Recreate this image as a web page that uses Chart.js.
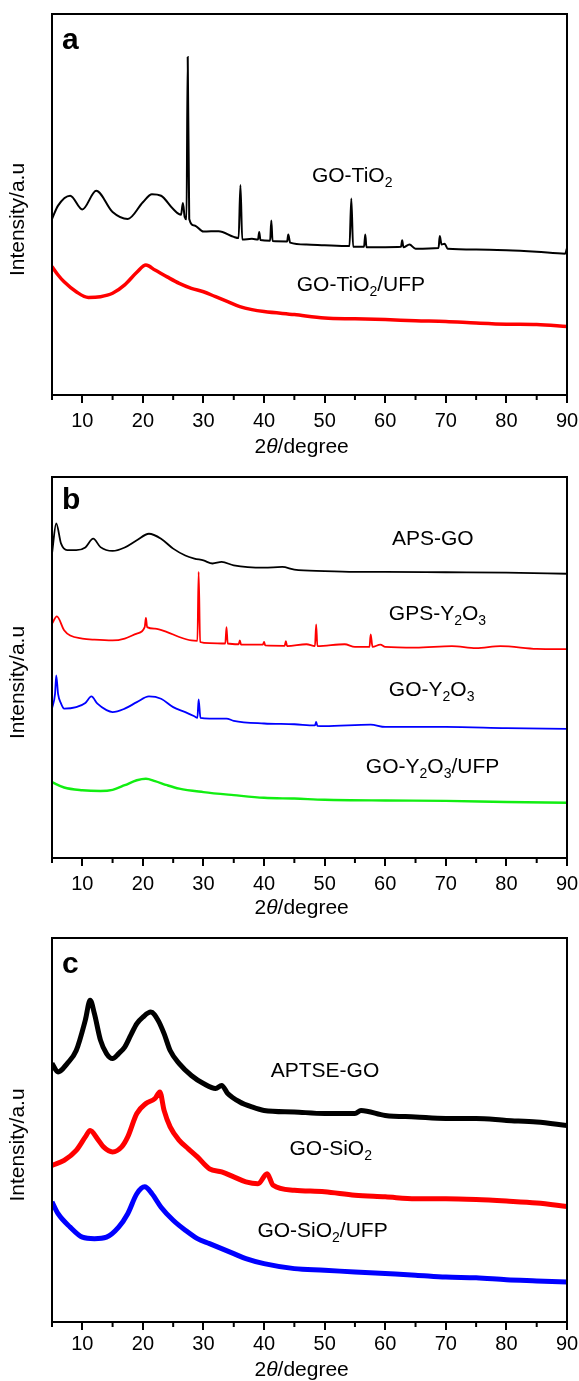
<!DOCTYPE html>
<html>
<head>
<meta charset="utf-8">
<script src="https://cdn.jsdelivr.net/npm/chart.js@4.4.0/dist/chart.umd.min.js"></script>
<style>
  html, body { margin: 0; padding: 0; background: #fff; }
  body { width: 579px; height: 1381px; position: relative; overflow: hidden; }
  canvas { position: absolute; left: 0; }
</style>
</head>
<body>
<canvas id="chartA" width="579" height="459" style="top:0px"></canvas>
<canvas id="chartB" width="579" height="460" style="top:460px"></canvas>
<canvas id="chartC" width="579" height="461" style="top:920px"></canvas>
<script>
// x ticks (2 theta, degree)
const xMin = 5;
const xMax = 90;
const xStep = 5;

// ---- panel a ----
const thetaA1 = [5, 6, 8, 10, 12.3, 15, 17.5, 20, 21.5, 23, 25, 26.3, 26.6, 26.9, 27.2, 27.4, 27.65, 28.5, 30, 32.5,
  35, 35.8, 36.1, 36.4, 38, 39, 39.2, 39.4, 41, 41.2, 41.4, 43.8, 44, 44.3, 47, 50, 54.1, 54.4, 54.7, 56.5,
  56.7, 56.9, 60, 62.6, 62.8, 63, 64, 65, 68.8, 69, 69.3, 69.8, 70.3, 75, 80, 85, 89.7, 90];
const intA1 = [46.2, 49.7, 52.3, 48.7, 53.6, 48.0, 46.2, 50.6, 52.7, 52.3, 48.8, 47.3, 50.4, 46.7, 46.1, 88.7, 46.2, 44.5, 42.9, 43.0,
  41.5, 41.2, 55.1, 40.8, 41.0, 40.8, 42.8, 40.7, 40.5, 45.8, 40.4, 40.3, 42.1, 40.0, 39.5, 39.3, 39.1, 51.6, 38.9, 38.9,
  42.1, 38.8, 38.8, 38.9, 40.6, 38.8, 39.5, 38.4, 38.6, 41.7, 39.5, 39.7, 38.4, 38.2, 38.0, 37.6, 37.1, 38.6];

const thetaA2 = [5, 6, 7, 9, 11, 13, 15, 17, 19, 20.5, 22, 24, 26, 28, 30, 32, 34, 36, 38, 40, 45, 50, 55, 60, 65, 70, 75, 80, 85, 90];
const intA2 = [33.7, 31.5, 29.7, 27.1, 25.6, 25.8, 26.7, 28.9, 32.2, 34.1, 32.8, 31.0, 29.3, 28.0, 27.1, 25.8, 24.5, 23.2, 22.4, 21.9,
  21.1, 20.2, 20.0, 19.8, 19.5, 19.3, 18.9, 18.6, 18.5, 18.0];

// ---- panel b ----
const thetaB1 = [5, 5.7, 6.5, 7.5, 9, 10.5, 11.8, 13, 15, 17, 19, 21, 23, 25, 27, 28.5, 30, 31.5, 33, 35, 40, 43, 45, 50, 55, 60, 70, 80, 90];
const intB1 = [79.9, 87.8, 82.5, 80.8, 80.8, 81.5, 83.8, 81.6, 80.6, 81.5, 83.4, 85.1, 83.8, 81.2, 79.4, 78.6, 78.1, 77.3, 77.7, 76.8,
  76.2, 76.4, 75.7, 75.3, 75.1, 75.1, 75.0, 74.9, 74.6];

const thetaB2 = [5, 5.8, 7, 8, 10, 12, 15, 17, 19, 20.3, 20.5, 20.7, 22, 24, 26, 28, 29, 29.2, 29.45, 31,
  33.6, 33.8, 34, 35.8, 36, 36.2, 39.8, 40, 40.2, 43.4, 43.6, 43.8, 47, 48.4, 48.6, 48.8, 53.3, 55, 57.4, 57.6,
  57.9, 59.2, 60, 65, 71, 75, 79, 85, 90];
const intB2 = [61.5, 63.4, 59.8, 58.4, 57.6, 57.3, 57.1, 57.6, 58.9, 60.6, 63.0, 60.6, 60.2, 59.3, 58.0, 57.1, 57.0, 75.1, 56.7, 56.4,
  56.3, 60.6, 56.3, 56.1, 57.1, 56.0, 56.0, 56.7, 55.8, 55.7, 56.9, 55.6, 56.1, 55.6, 61.3, 55.6, 56.1, 55.4, 55.4, 58.7,
  55.4, 56.0, 55.4, 55.2, 55.6, 55.1, 55.6, 54.9, 54.8];

const thetaB3 = [5, 5.5, 5.7, 6, 6.5, 7, 9, 10.5, 11.5, 12.5, 14, 15, 17, 19, 21, 23, 25, 27, 28.5, 29,
  29.2, 29.5, 31, 33.8, 35, 40, 45, 48.4, 48.6, 48.8, 50, 57.6, 60, 70, 80, 90];
const intB3 = [39.2, 43.1, 47.9, 43.1, 40.5, 39.2, 39.6, 40.7, 42.4, 40.5, 38.8, 38.3, 39.2, 40.9, 42.4, 41.8, 39.6, 38.3, 37.2, 36.8,
  41.6, 36.8, 36.6, 36.6, 36.0, 35.3, 35.1, 34.8, 35.7, 34.7, 34.6, 35.0, 34.4, 34.4, 34.1, 33.9];

const thetaB4 = [5, 7, 10, 13, 15, 17, 19, 20.5, 22, 24, 26, 30, 35, 40, 45, 50, 60, 70, 80, 90];
const intB4 = [19.9, 18.5, 17.8, 17.6, 17.9, 19.1, 20.4, 20.8, 20.2, 19.1, 18.2, 17.3, 16.5, 15.8, 15.6, 15.3, 15.1, 15.0, 14.7, 14.5];

// ---- panel c ----
const thetaC1 = [5, 6, 7.5, 9, 10.5, 11.3, 12, 13, 14, 15, 16, 17, 18, 19, 20, 21.3, 22.5, 23.5, 24.5, 26,
  28, 30, 32, 33, 34, 36, 38, 40, 45, 50, 55, 56, 60, 65, 70, 75, 80, 85, 90];
const intC1 = [67.3, 65.1, 67.3, 70.7, 78.6, 83.8, 80.3, 73.4, 69.9, 68.6, 69.9, 71.6, 74.7, 77.7, 79.4, 80.7, 78.6, 75.1, 70.7, 67.3,
  64.2, 62.1, 60.8, 61.6, 59.5, 57.3, 56.0, 55.1, 54.7, 54.3, 54.3, 55.1, 53.8, 53.4, 53.0, 53.0, 52.5, 52.1, 51.2];

const thetaC2 = [5, 7, 9, 10.5, 11.3, 12.5, 13.5, 15, 16.5, 17.5, 19, 20.5, 22, 22.8, 23.5, 24.5, 26, 27.5, 29, 31,
  33, 35, 37, 39, 40.5, 41.5, 45, 50, 55, 60, 65, 70, 75, 80, 85, 90];
const intC2 = [40.8, 42.1, 44.7, 48.2, 49.9, 47.7, 45.6, 44.3, 45.6, 48.2, 54.3, 56.9, 58.2, 59.9, 55.1, 50.8, 47.3, 45.1, 43.0, 39.9,
  39.1, 37.8, 36.5, 36.0, 38.6, 35.6, 34.3, 33.9, 33.0, 32.6, 32.1, 32.1, 31.9, 31.5, 31.0, 30.1];

const thetaC3 = [5, 6, 8, 10, 12, 14, 16, 17.5, 19, 20.3, 21.5, 23, 25, 27, 29, 31, 33, 35, 37, 40,
  45, 50, 55, 60, 65, 70, 75, 80, 85, 90];
const intC3 = [31.3, 28.2, 24.7, 22.1, 21.7, 22.1, 24.7, 28.2, 33.4, 35.2, 33.4, 29.9, 26.5, 23.9, 21.7, 20.4, 19.1, 17.8, 16.5, 15.2,
  13.9, 13.5, 13.0, 12.6, 12.2, 11.7, 11.5, 11.0, 10.7, 10.4];

const FONT = '"Liberation Sans", Arial, sans-serif';
const toPts = (xs, ys) => xs.map((v, i) => ({ x: v, y: ys[i] }));

// text with "_n" meaning subscript n
function drawRich(ctx, text, x, y, size) {
  const parts = text.split(/_(\d)/);
  let cx = x;
  parts.forEach((p, i) => {
    if (!p) return;
    if (i % 2 === 1) {
      ctx.font = Math.round(size * 0.65) + 'px ' + FONT;
      ctx.fillText(p, cx, y + size * 0.33);
    } else {
      ctx.font = size + 'px ' + FONT;
      ctx.fillText(p, cx, y);
    }
    cx += ctx.measureText(p).width;
  });
}

const decor = {
  id: 'decor',
  afterDraw(chart, args, o) {
    const { ctx, chartArea: a, scales: { x, y } } = chart;
    ctx.save();
    ctx.strokeStyle = '#000';
    ctx.lineWidth = 2;
    ctx.strokeRect(a.left, a.top, a.right - a.left, a.bottom - a.top);
    // minor ticks
    for (let v = xMin; v < xMax; v += 10) {
      const px = x.getPixelForValue(v);
      ctx.beginPath();
      ctx.moveTo(px, a.bottom);
      ctx.lineTo(px, a.bottom + 5);
      ctx.stroke();
    }
    ctx.fillStyle = '#000';
    // panel letter
    ctx.font = 'bold 30px ' + FONT;
    ctx.textAlign = 'left';
    ctx.textBaseline = 'alphabetic';
    ctx.fillText(o.letter, a.left + 10, a.top + o.letterDy);
    // series names
    ctx.textBaseline = 'middle';
    o.names.forEach((n, i) => {
      drawRich(ctx, n, x.getPixelForValue(o.nameX[i]), y.getPixelForValue(o.nameY[i]), 21);
    });
    // x title with italic theta
    const ty = a.bottom + o.titleDy;
    const seg = [['2', ''], ['\u03B8', 'italic '], ['/degree', '']];
    let w = 0;
    seg.forEach(s => { ctx.font = s[1] + '21px ' + FONT; w += ctx.measureText(s[0]).width; });
    let tx = x.getPixelForValue(46.2) - w / 2;
    seg.forEach(s => {
      ctx.font = s[1] + '21px ' + FONT;
      ctx.fillText(s[0], tx, ty);
      tx += ctx.measureText(s[0]).width;
    });
    // y title
    ctx.font = '21px ' + FONT;
    ctx.textAlign = 'center';
    ctx.translate(18, (a.top + a.bottom) / 2 + 15);
    ctx.rotate(-Math.PI / 2);
    ctx.fillText('Intensity/a.u', 0, 0);
    ctx.restore();
  }
};

function makePanel(id, series, opts) {
  const canvas = document.getElementById(id);
  return new Chart(canvas, {
    type: 'line',
    data: {
      datasets: series.map(s => ({
        data: toPts(s.xs, s.ys),
        borderColor: s.color,
        borderWidth: s.width,
        pointRadius: 0,
        fill: false,
        cubicInterpolationMode: 'monotone'
      }))
    },
    options: {
      responsive: false,
      animation: false,
      devicePixelRatio: 1,
      layout: { padding: { top: opts.top, left: 52, right: 12, bottom: 0 } },
      plugins: {
        legend: { display: false },
        tooltip: { enabled: false },
        decor: opts.decor
      },
      scales: {
        x: {
          type: 'linear',
          min: xMin,
          max: xMax,
          afterFit: s => {
            s.height = opts.xHeight;
            s.paddingLeft = 0;
            s.paddingRight = 0;
          },
          border: { display: false },
          grid: {
            drawOnChartArea: false,
            drawTicks: true,
            tickLength: 8,
            lineWidth: 2,
            color: c => (c.tick && c.tick.value % 10 === 0) ? '#000' : 'rgba(0,0,0,0)'
          },
          ticks: {
            stepSize: xStep,
            autoSkip: false,
            maxRotation: 0,
            padding: opts.tickPad,
            color: '#000',
            font: { family: FONT, size: 20 },
            callback: v => (v % 10 === 0 ? v : '')
          }
        },
        y: { display: false, min: 0, max: 100 }
      }
    },
    plugins: [decor]
  });
}

makePanel('chartA', [
  { xs: thetaA1, ys: intA1, color: '#000000', width: 2 },
  { xs: thetaA2, ys: intA2, color: '#ff0000', width: 3.5 }
], {
  top: 14, xHeight: 64, tickPad: 6,
  decor: {
    letter: 'a', letterDy: 35, titleDy: 52,
    names: ['GO-TiO_2', 'GO-TiO_2/UFP'], nameX: [47.9, 45.4], nameY: [57.3, 28.9]
  }
});

makePanel('chartB', [
  { xs: thetaB1, ys: intB1, color: '#000000', width: 1.8 },
  { xs: thetaB2, ys: intB2, color: '#ff0000', width: 1.8 },
  { xs: thetaB3, ys: intB3, color: '#0000ff', width: 1.8 },
  { xs: thetaB4, ys: intB4, color: '#11ee11', width: 2.4 }
], {
  top: 17, xHeight: 62, tickPad: 6,
  decor: {
    letter: 'b', letterDy: 32, titleDy: 50,
    names: ['APS-GO', 'GPS-Y_2O_3', 'GO-Y_2O_3', 'GO-Y_2O_3/UFP'],
    nameX: [61.1, 60.6, 60.6, 56.8], nameY: [83.6, 64.0, 44.0, 23.9]
  }
});

makePanel('chartC', [
  { xs: thetaC1, ys: intC1, color: '#000000', width: 5 },
  { xs: thetaC2, ys: intC2, color: '#ff0000', width: 5 },
  { xs: thetaC3, ys: intC3, color: '#0000ff', width: 5 }
], {
  top: 18, xHeight: 59, tickPad: 2,
  decor: {
    letter: 'c', letterDy: 35, titleDy: 48,
    names: ['APTSE-GO', 'GO-SiO_2', 'GO-SiO_2/UFP'],
    nameX: [41.1, 44.2, 38.9], nameY: [65.4, 44.9, 23.7]
  }
});
</script>
</body>
</html>
